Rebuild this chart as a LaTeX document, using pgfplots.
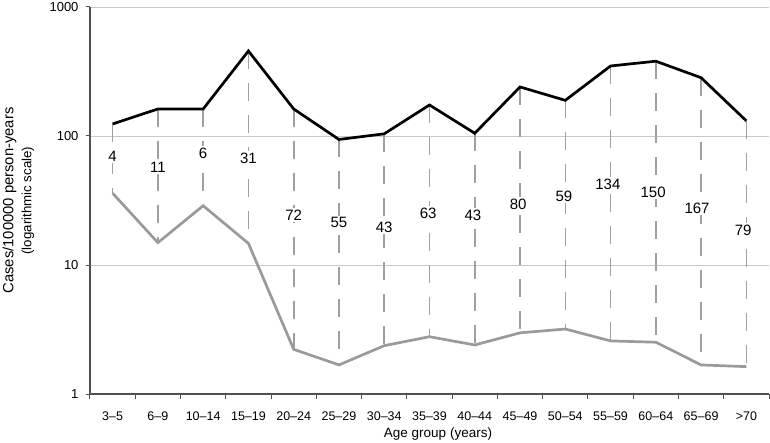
\documentclass[border=0pt]{standalone}
\usepackage{pgfplots}
\usepackage{pgfplotstable}
\pgfplotsset{compat=1.18}
\usepackage{fontspec}
\setmainfont{Liberation Sans}
\definecolor{lgray}{HTML}{9A9A9A}
\definecolor{dgray}{HTML}{A0A0A0}
\definecolor{gridc}{HTML}{C8C8C8}
\definecolor{axisc}{HTML}{505050}

\pgfplotstableread{
x hi lo
0 124 36
1 162 14.9
2 162 28.8
3 456 14.7
4 162 2.22
5 94 1.68
6 104 2.37
7 174 2.78
8 105 2.40
9 240 2.98
10 189 3.19
11 349 2.58
12 380 2.52
13 283 1.68
14 131 1.63
}\rates

\pgfplotstableread{
x y n
0 70 4
1 57.5 11
2 73.8 6
3 67.5 31
4 24.4 72
5 21.2 55
6 19.7 43
6.97 25.3 63
7.96 24.4 43
8.96 29.7 80
9.97 34.3 59
10.94 42.4 134
11.94 36.8 150
12.91 27.7 167
13.93 18.7 79
}\counts

\begin{document}
\begin{tikzpicture}
\begin{axis}[name=ax, scale only axis, width=679pt, height=387pt,
  xmin=-0.5, xmax=14.5, ymode=log, ymin=1, ymax=1000,
  axis x line*=bottom, axis y line*=left,
  axis line style={axisc, line width=1.2pt},
  xtick={0,...,14},
  xticklabels={3–5,6–9,10–14,15–19,20–24,25–29,30–34,35–39,40–44,45–49,50–54,55–59,60–64,65–69,>70},
  major x tick style={draw=none},
  minor xtick={-0.5,0.5,...,14.5}, minor tick length=5pt,
  ytick={1,10,100,1000}, yticklabels={1,10,100,1000}, yminorticks=false,
  tick align=outside, major tick length=4pt,
  tick style={axisc, line width=1pt},
  ymajorgrids, grid style={gridc, line width=0.8pt},
  xticklabel style={font=\fontsize{12.5}{14}\selectfont, yshift=-10pt},
  yticklabel style={font=\fontsize{13}{15}\selectfont, xshift=-4pt},
  ylabel={Cases/100000 person-years\\{\fontsize{13.3}{15}\selectfont(logarithmic scale)}},
  ylabel style={align=center, font=\fontsize{14.8}{18}\selectfont, at={(axis description cs:-0.082,0.5)}, anchor=south, inner sep=0pt},
]
\pgfplotsinvokeforeach{0,...,14}{
  \pgfplotstablegetelem{#1}{hi}\of\rates \let\hival\pgfplotsretval
  \pgfplotstablegetelem{#1}{lo}\of\rates \let\loval\pgfplotsretval
  \edef\tmp{\noexpand\addplot[dgray, line width=1.6pt, dash pattern=on 18pt off 14pt, forget plot] coordinates {(#1,\hival) (#1,\loval)};}
  \tmp
}
\addplot[lgray, line width=2.7pt] table[x=x,y=lo]{\rates};
\addplot[black, line width=2.7pt] table[x=x,y=hi]{\rates};
\addplot[draw=none, mark=none, nodes near coords, point meta=explicit symbolic,
  nodes near coords align={anchor=center},
  nodes near coords style={fill=white, inner sep=1.5pt, font=\fontsize{15}{17}\selectfont}]
  table[x=x,y=y,meta=n]{\counts};
\end{axis}
\node[font=\fontsize{13.5}{15}\selectfont, anchor=center] at ([xshift=348pt,yshift=-40pt]ax.south west) {Age group (years)};
\pgfresetboundingbox
\path ([xshift=-90pt,yshift=-48pt]ax.south west) rectangle ([xshift=1pt,yshift=7pt]ax.north east);
\end{tikzpicture}
\end{document}
